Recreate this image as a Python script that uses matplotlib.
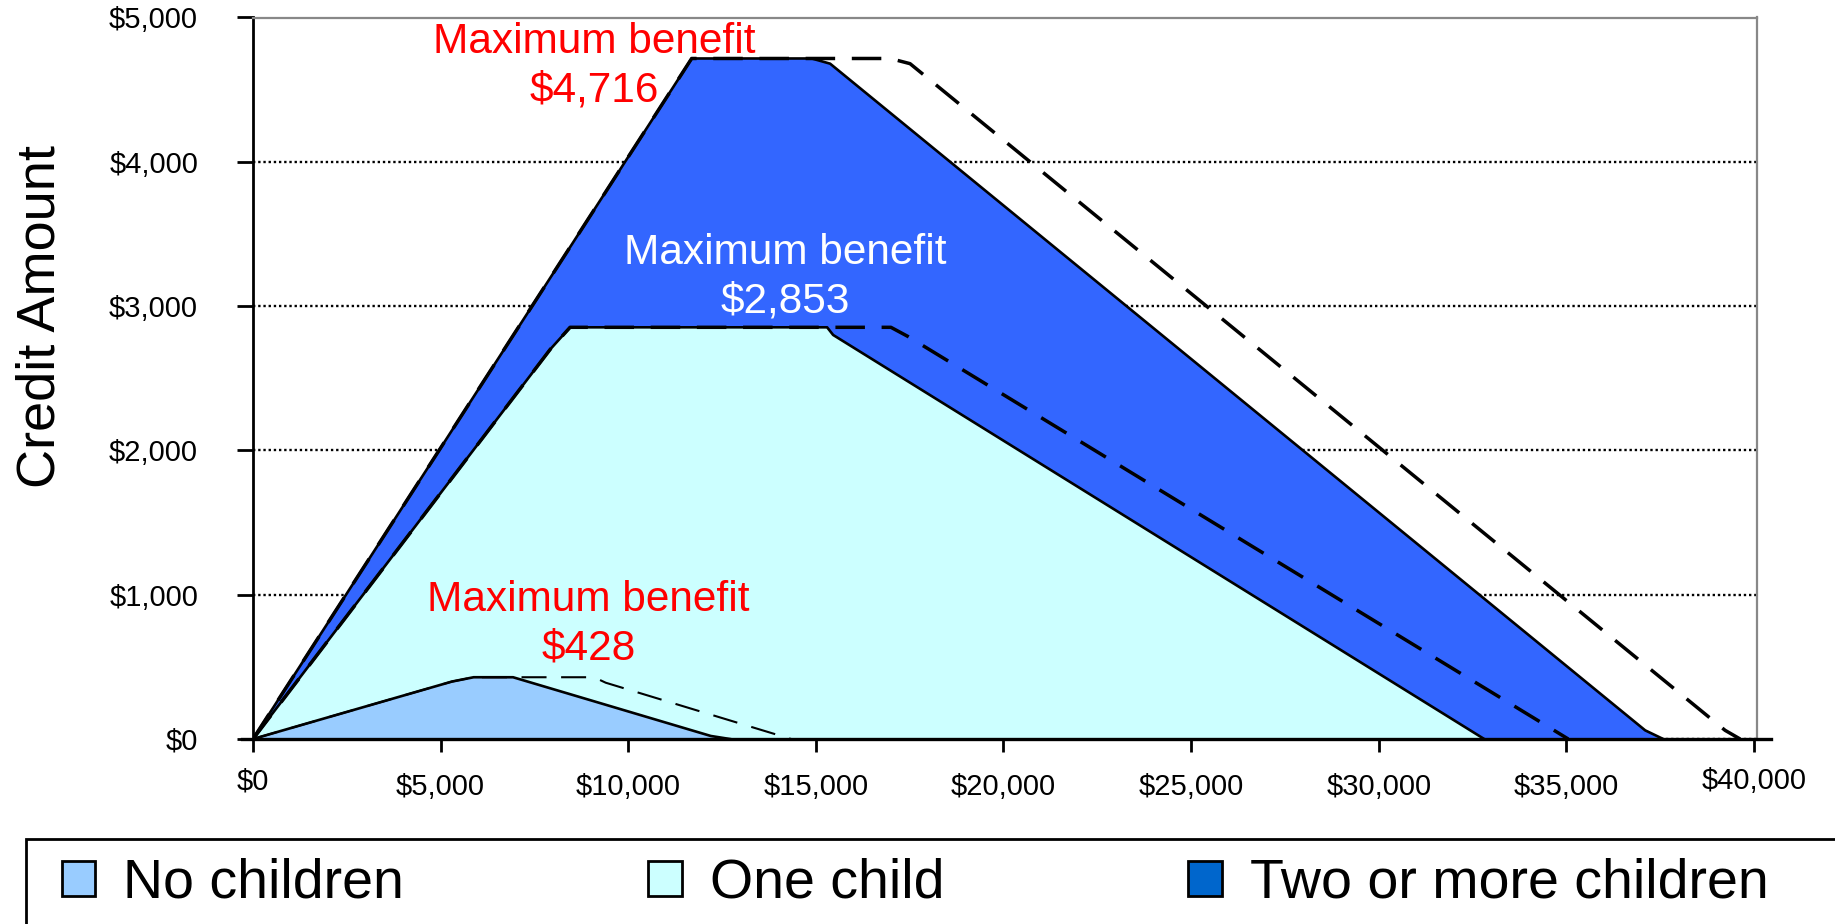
import matplotlib
matplotlib.use("Agg")
import matplotlib.pyplot as plt
import matplotlib.transforms as mtransforms
from matplotlib.patches import Patch, Rectangle
from matplotlib.ticker import FuncFormatter, MultipleLocator

plt.rcParams['font.family'] = ['Liberation Sans', 'DejaVu Sans']

# EITC schedules: earned income -> credit amount
no_kids_income = [0, 5300, 5880, 6930, 12200, 12710]
no_kids_credit = [0, 398, 428, 428, 21, 0]
no_kids_joint_income = [0, 5300, 5880, 9090, 9400, 14340]
no_kids_joint_credit = [0, 398, 428, 428, 390, 0]

one_child_income = [0, 7920, 8450, 15300, 15460, 32810]
one_child_credit = [0, 2700, 2853, 2853, 2800, 0]
one_child_joint_income = [0, 7920, 8450, 17000, 17450, 35050]
one_child_joint_credit = [0, 2700, 2853, 2853, 2790, 0]

two_plus_income = [0, 11690, 14890, 15380, 37100, 37580]
two_plus_credit = [0, 4716, 4716, 4680, 60, 0]
two_plus_joint_income = [0, 11690, 16980, 17510, 39230, 39630]
two_plus_joint_credit = [0, 4716, 4716, 4680, 60, 0]

series_labels = ["No children", "One child", "Two or more children"]
fill_colors = ["#99CCFF", "#CCFFFF", "#3366FF"]
legend_colors = ["#99CCFF", "#CCFFFF", "#0066CC"]

max_benefits = [428, 2853, 4716]

W, H = 1835, 924
fig = plt.figure(figsize=(W / 100, H / 100), dpi=100)
ax = fig.add_axes([253 / W, 1 - 739 / H, 1504 / W, 721.5 / H])

# filled areas, largest first so smaller ones sit on top
ax.fill_between(two_plus_income, two_plus_credit, 0, color=fill_colors[2], lw=0, zorder=2)
ax.fill_between(one_child_income, one_child_credit, 0, color=fill_colors[1], lw=0, zorder=3)
ax.fill_between(no_kids_income, no_kids_credit, 0, color=fill_colors[0], lw=0, zorder=4)

for xs, ys in [(two_plus_income, two_plus_credit),
               (one_child_income, one_child_credit),
               (no_kids_income, no_kids_credit)]:
    ax.plot(xs, ys, color='black', lw=1.9, zorder=5, solid_joinstyle='round')

# married filing jointly schedules as dashed lines
ax.plot(two_plus_joint_income, two_plus_joint_credit, color='black', lw=2.5,
        ls=(0, (8.5, 4.8)), zorder=6)
ax.plot(one_child_joint_income, one_child_joint_credit, color='black', lw=2.5,
        ls=(0, (8.5, 4.8)), zorder=6)
ax.plot(no_kids_joint_income, no_kids_joint_credit, color='black', lw=1.5,
        ls=(0, (12, 7)), zorder=6)

ax.set_xlim(0, 40080)
ax.set_ylim(0, 5000)
ax.xaxis.set_major_locator(MultipleLocator(5000))
ax.yaxis.set_major_locator(MultipleLocator(1000))
money = FuncFormatter(lambda v, p: f"${v:,.0f}")
ax.xaxis.set_major_formatter(money)
ax.yaxis.set_major_formatter(money)

ax.grid(axis='y', color='black', ls=(0, (1, 1.2)), lw=1.7, zorder=1)
ax.set_axisbelow(True)

ax.tick_params(axis='y', direction='out', length=11.5, width=2, pad=28, labelsize=21)
ax.tick_params(axis='x', direction='out', length=9.5, width=2, pad=15, labelsize=21)

for side in ['top', 'right']:
    ax.spines[side].set_color('#888888')
    ax.spines[side].set_linewidth(1.6)
ax.spines['left'].set_linewidth(2)
ax.spines['bottom'].set_visible(False)
ax.axhline(0, xmin=-0.007, xmax=1.009, color='black', lw=2.4, clip_on=False, zorder=7)

# first and last x labels sit slightly higher
shift = mtransforms.ScaledTranslation(0, 6 / 100, fig.dpi_scale_trans)
fig.canvas.draw()
for lbl in ax.get_xticklabels():
    if lbl.get_text() in ("$0", "$40,000"):
        lbl.set_transform(lbl.get_transform() + shift)

ax.set_ylabel("Credit Amount", fontsize=39)
ax.yaxis.label.set_va('center')
ax.yaxis.set_label_coords(-0.141, 0.586)

ax.text(9090, 4660, f"Maximum benefit\n${max_benefits[2]:,}", color='red', fontsize=30.5,
        ha='center', va='center', linespacing=1.27, zorder=8)
ax.text(14180, 3198, f"Maximum benefit\n${max_benefits[1]:,}", color='white', fontsize=30.5,
        ha='center', va='center', linespacing=1.27, zorder=8)
ax.text(8940, 797, f"Maximum benefit\n${max_benefits[0]:,}", color='red', fontsize=30.5,
        ha='center', va='center', linespacing=1.27, zorder=8)

# legend strip along the bottom
fig.add_artist(Rectangle((26 / W, -0.2), 1.2, 0.2 + (924 - 839) / H,
                         transform=fig.transFigure, fill=False,
                         edgecolor='black', lw=2))
handles = [Patch(facecolor=c, edgecolor='black', lw=2) for c in legend_colors]
fig.legend(handles, series_labels, loc='center left',
           bbox_to_anchor=(62 / W, 1 - 884 / H), ncol=3, frameon=False,
           fontsize=40, handlelength=0.6, handleheight=0.6,
           handletextpad=0.5, columnspacing=4.4, borderpad=0, borderaxespad=0)

fig.savefig("out.png", dpi=100)
